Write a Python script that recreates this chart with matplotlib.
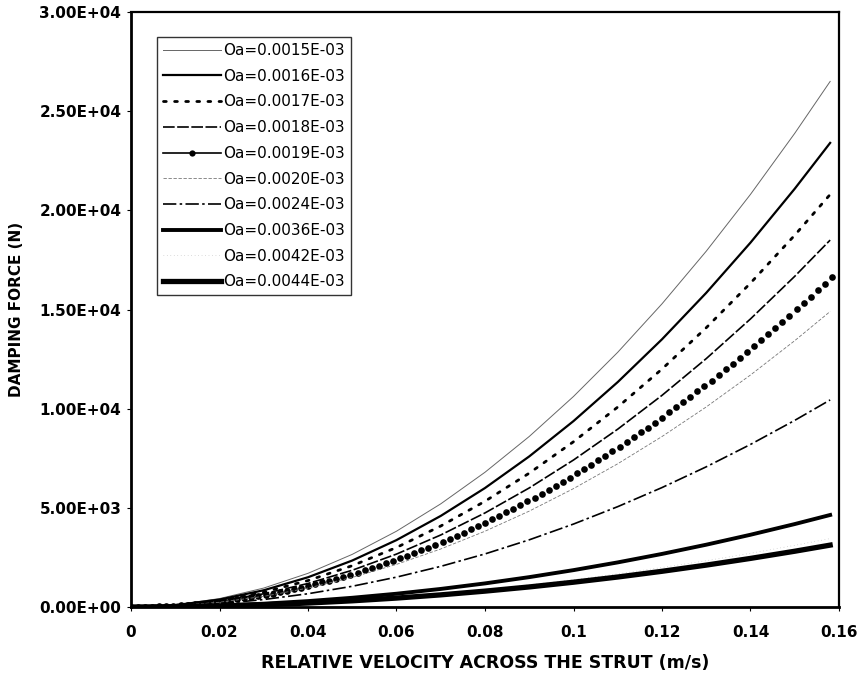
import numpy as np
import matplotlib
matplotlib.use("Agg")
import matplotlib.pyplot as plt
from matplotlib.lines import Line2D

# ---- data ----
vel = [0.0, 0.01, 0.02, 0.03, 0.04, 0.05, 0.06, 0.07, 0.08, 0.09,
       0.10, 0.11, 0.12, 0.13, 0.14, 0.15, 0.158]

f_0015 = [0, 106, 425, 955, 1698, 2654, 3822, 5201, 6794, 8598,
          10615, 12844, 15286, 17940, 20806, 23884, 26500]
f_0016 = [0, 94, 375, 844, 1500, 2343, 3374, 4593, 5999, 7593,
          9374, 11342, 13498, 15841, 18372, 21090, 23400]
f_0017 = [0, 83, 333, 750, 1333, 2083, 3000, 4083, 5332, 6749,
          8332, 10082, 11998, 14081, 16331, 18747, 20800]
f_0018 = [0, 74, 296, 667, 1186, 1853, 2668, 3631, 4743, 6003,
          7411, 8967, 10671, 12524, 14525, 16674, 18500]
f_0020 = [0, 60, 239, 537, 955, 1492, 2149, 2925, 3820, 4835,
          5969, 7222, 8595, 10087, 11698, 13429, 14900]
f_0024 = [0, 42, 167, 376, 669, 1045, 1506, 2049, 2676, 3387,
          4182, 5060, 6022, 7068, 8197, 9410, 10440]
f_0036 = [0, 19, 74, 167, 297, 465, 669, 911, 1190, 1506,
          1859, 2249, 2676, 3141, 3643, 4182, 4640]
f_0042 = [0, 14, 55, 124, 221, 345, 498, 677, 884, 1119,
          1382, 1672, 1990, 2336, 2709, 3109, 3450]
f_0044 = [0, 12, 50, 112, 200, 312, 450, 612, 800, 1012,
          1250, 1512, 1800, 2112, 2450, 2812, 3120]

# the 0.0019 series is plotted with dense dot markers (velocity step 0.0016 m/s)
vel_dots = [round(0.0016 * i, 4) for i in range(100)]
f_0019 = [0, 2, 7, 15, 27, 42, 61, 83, 109, 138,
          170, 205, 244, 287, 333, 382, 435, 491, 550, 613,
          679, 749, 822, 898, 978, 1061, 1148, 1238, 1331, 1428,
          1528, 1632, 1739, 1849, 1963, 2080, 2200, 2324, 2452, 2582,
          2716, 2854, 2995, 3139, 3287, 3438, 3592, 3750, 3912, 4076,
          4244, 4416, 4591, 4769, 4951, 5136, 5324, 5516, 5711, 5910,
          6112, 6318, 6526, 6739, 6954, 7173, 7396, 7621, 7851, 8083,
          8319, 8559, 8801, 9048, 9297, 9550, 9807, 10066, 10329, 10596,
          10866, 11139, 11416, 11696, 11980, 12267, 12557, 12851, 13148, 13448,
          13752, 14060, 14370, 14684, 15002, 15323, 15647, 15975, 16306, 16640]

labels = ["Oa=0.0015E-03", "Oa=0.0016E-03", "Oa=0.0017E-03", "Oa=0.0018E-03",
          "Oa=0.0019E-03", "Oa=0.0020E-03", "Oa=0.0024E-03", "Oa=0.0036E-03",
          "Oa=0.0042E-03", "Oa=0.0044E-03"]

x_ticks = [0, 0.02, 0.04, 0.06, 0.08, 0.1, 0.12, 0.14, 0.16]
x_tick_labels = ["0", "0.02", "0.04", "0.06", "0.08", "0.1", "0.12", "0.14", "0.16"]
y_ticks = [0, 5000, 10000, 15000, 20000, 25000, 30000]
y_tick_labels = ["0.00E+00", "5.00E+03", "1.00E+04", "1.50E+04", "2.00E+04",
                 "2.50E+04", "3.00E+04"]

plt.rcParams['font.family'] = ['DejaVu Sans']

fig = plt.figure(figsize=(8.59, 6.79), dpi=100)
ax = fig.add_axes([131/859, 72/679, 708/859, 595/679])

handles = []
h, = ax.plot(vel, f_0015, color='#666666', lw=0.7)
handles.append(h)
h, = ax.plot(vel, f_0016, color='black', lw=1.6)
handles.append(h)
h, = ax.plot(vel, f_0017, color='black', lw=2.0, linestyle=(0, (1.0, 3.0)),
             dash_capstyle='round')
handles.append(h)
h, = ax.plot(vel, f_0018, color='black', lw=1.2, linestyle=(0, (7, 1.5)))
handles.append(h)
ax.plot(vel_dots, f_0019, color='black', linestyle='None', marker='o', ms=4.8,
        markeredgewidth=0)
handles.append(Line2D([], [], color='black', lw=1.2, marker='o', ms=4.5,
                      markeredgewidth=0))
h, = ax.plot(vel, f_0020, color='#777777', lw=0.6, linestyle=(0, (4, 2)))
handles.append(h)
h, = ax.plot(vel, f_0024, color='black', lw=1.2, linestyle=(0, (8, 2, 1.5, 2)))
handles.append(h)
h, = ax.plot(vel, f_0036, color='black', lw=2.8)
handles.append(h)
h, = ax.plot(vel, f_0042, color='#bbbbbb', lw=0.5, linestyle=(0, (1, 4)))
handles.append(h)
h, = ax.plot(vel, f_0044, color='black', lw=3.8)
handles.append(h)

ax.set_xlim(0, 0.16)
ax.set_ylim(0, 30000)
ax.set_xticks(x_ticks)
ax.set_xticklabels(x_tick_labels, fontsize=11, fontweight='bold')
ax.set_yticks(y_ticks)
ax.set_yticklabels(y_tick_labels, fontsize=11, fontweight='bold')
ax.tick_params(axis='both', direction='out', length=3, width=0.8)
ax.tick_params(axis='x', pad=10)
ax.tick_params(axis='y', pad=4)

for side in ['left', 'bottom']:
    ax.spines[side].set_linewidth(2.0)
for side in ['top', 'right']:
    ax.spines[side].set_linewidth(1.6)

ax.set_xlabel("RELATIVE VELOCITY ACROSS THE STRUT (m/s)", fontsize=12.5,
              fontweight='bold', labelpad=10)
ax.set_ylabel("DAMPING FORCE (N)", fontsize=11, fontweight='bold', labelpad=11)

leg = ax.legend(handles, labels, loc='upper left', bbox_to_anchor=(0.037, 0.958),
                fontsize=11, frameon=True, fancybox=False, edgecolor='black',
                handlelength=3.8, handletextpad=0.1, borderpad=0.4,
                labelspacing=0.7, borderaxespad=0)
leg.get_frame().set_linewidth(1.0)

fig.savefig("out.png", dpi=100)
